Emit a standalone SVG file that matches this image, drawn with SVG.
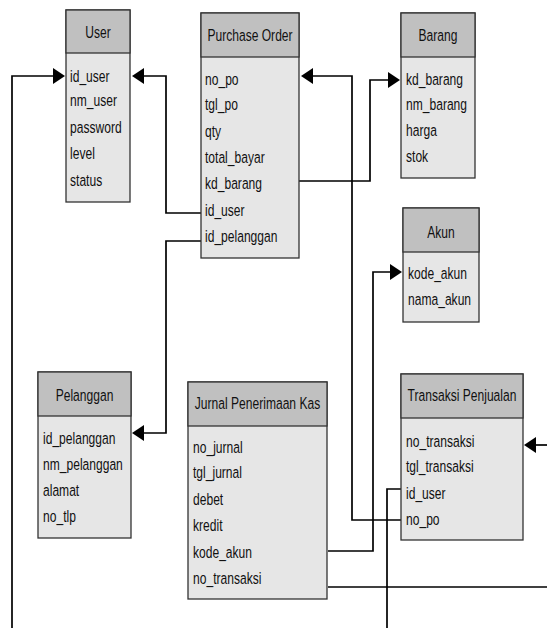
<svg xmlns="http://www.w3.org/2000/svg" width="547" height="628" viewBox="0 0 547 628">
<style>
.hd{fill:#c0c0c0;stroke:#333;stroke-width:1.3}
.bd{fill:#e6e6e6;stroke:#333;stroke-width:1.3}
text{font-family:"Liberation Sans",Arial,sans-serif;font-size:17px;fill:#111}
.t{text-anchor:middle}
.c{fill:none;stroke:#000;stroke-width:1.7}
.ah{fill:#000;stroke:none}
</style>
<rect width="547" height="628" fill="#fff"/>
<g id="connectors">
<path class="c" d="M12,628 V76 H54"/>
<polygon class="ah" points="65,76 53,68 53,84"/>
<path class="c" d="M201,213 H166 V76 H143"/>
<polygon class="ah" points="132,76 144,68 144,84"/>
<path class="c" d="M201,241 H166 V433 H144"/>
<polygon class="ah" points="132,433 144,425 144,441"/>
<path class="c" d="M401,520 H352 V76 H312"/>
<polygon class="ah" points="301,76 313,68 313,84"/>
<path class="c" d="M299,181 H370 V80 H389"/>
<polygon class="ah" points="400,80 388,72 388,88"/>
<path class="c" d="M328,551 H373 V272 H391"/>
<polygon class="ah" points="402,272 390,264 390,280"/>
<path class="c" d="M401,489 H387 V628"/>
<path class="c" d="M328,587 H547"/>
<path class="c" d="M547,445 H534"/>
<polygon class="ah" points="524,445 536,437 536,453"/>
</g>
<g id="user">
<rect class="bd" x="66" y="10" width="64" height="192"/>
<rect class="hd" x="66" y="10" width="64" height="43"/>
<text class="t" transform="translate(98,38) scale(0.71,1)">User</text>
<text transform="translate(70,82) scale(0.71,1)">id_user</text>
<text transform="translate(70,106) scale(0.71,1)">nm_user</text>
<text transform="translate(70,133) scale(0.71,1)">password</text>
<text transform="translate(70,159) scale(0.71,1)">level</text>
<text transform="translate(70,186) scale(0.71,1)">status</text>
</g>
<g id="purchase-order">
<rect class="bd" x="201" y="13" width="98" height="245"/>
<rect class="hd" x="201" y="13" width="98" height="44"/>
<text class="t" transform="translate(250,41) scale(0.71,1)">Purchase Order</text>
<text transform="translate(205,85) scale(0.71,1)">no_po</text>
<text transform="translate(205,110) scale(0.71,1)">tgl_po</text>
<text transform="translate(205,137) scale(0.71,1)">qty</text>
<text transform="translate(205,163) scale(0.71,1)">total_bayar</text>
<text transform="translate(205,189) scale(0.71,1)">kd_barang</text>
<text transform="translate(205,216) scale(0.71,1)">id_user</text>
<text transform="translate(205,242) scale(0.71,1)">id_pelanggan</text>
</g>
<g id="barang">
<rect class="bd" x="401" y="13" width="74" height="165"/>
<rect class="hd" x="401" y="13" width="74" height="44"/>
<text class="t" transform="translate(438,41) scale(0.71,1)">Barang</text>
<text transform="translate(406,85) scale(0.71,1)">kd_barang</text>
<text transform="translate(406,110) scale(0.71,1)">nm_barang</text>
<text transform="translate(406,136) scale(0.71,1)">harga</text>
<text transform="translate(406,162) scale(0.71,1)">stok</text>
</g>
<g id="akun">
<rect class="bd" x="403" y="208" width="76" height="114"/>
<rect class="hd" x="403" y="208" width="76" height="44"/>
<text class="t" transform="translate(441,238) scale(0.71,1)">Akun</text>
<text transform="translate(408,279) scale(0.71,1)">kode_akun</text>
<text transform="translate(408,305) scale(0.71,1)">nama_akun</text>
</g>
<g id="pelanggan">
<rect class="bd" x="38" y="372" width="93" height="166"/>
<rect class="hd" x="38" y="372" width="93" height="44"/>
<text class="t" transform="translate(84.5,401) scale(0.71,1)">Pelanggan</text>
<text transform="translate(43,444) scale(0.71,1)">id_pelanggan</text>
<text transform="translate(43,470) scale(0.71,1)">nm_pelanggan</text>
<text transform="translate(43,496) scale(0.71,1)">alamat</text>
<text transform="translate(43,522) scale(0.71,1)">no_tlp</text>
</g>
<g id="jurnal-penerimaan-kas">
<rect class="bd" x="188" y="382" width="139" height="217"/>
<rect class="hd" x="188" y="382" width="139" height="44"/>
<text class="t" transform="translate(257.5,409) scale(0.71,1)">Jurnal Penerimaan Kas</text>
<text transform="translate(193,453) scale(0.71,1)">no_jurnal</text>
<text transform="translate(193,478) scale(0.71,1)">tgl_jurnal</text>
<text transform="translate(193,505) scale(0.71,1)">debet</text>
<text transform="translate(193,531) scale(0.71,1)">kredit</text>
<text transform="translate(193,558) scale(0.71,1)">kode_akun</text>
<text transform="translate(193,584) scale(0.71,1)">no_transaksi</text>
</g>
<g id="transaksi-penjualan">
<rect class="bd" x="401" y="374" width="122" height="166"/>
<rect class="hd" x="401" y="374" width="122" height="44"/>
<text class="t" transform="translate(462,401) scale(0.71,1)">Transaksi Penjualan</text>
<text transform="translate(406,447) scale(0.71,1)">no_transaksi</text>
<text transform="translate(406,472) scale(0.71,1)">tgl_transaksi</text>
<text transform="translate(406,499) scale(0.71,1)">id_user</text>
<text transform="translate(406,525) scale(0.71,1)">no_po</text>
</g>
</svg>
